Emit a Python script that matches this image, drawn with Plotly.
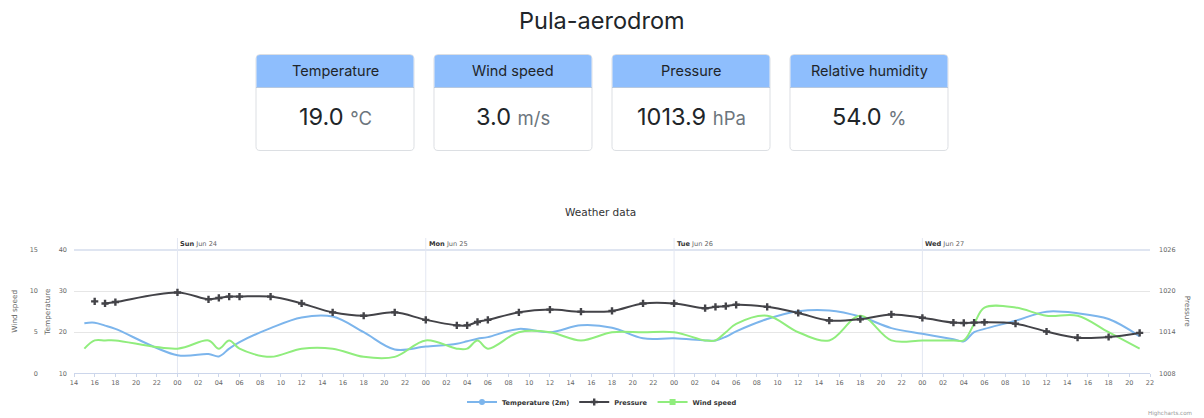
import plotly.graph_objects as go

W, H = 1204, 418

# ---------------- data ----------------
met_times = [
    "2018-06-23 15:00", "2018-06-23 16:00", "2018-06-23 17:00", "2018-06-23 18:00",
    "2018-06-24 00:00", "2018-06-24 03:00", "2018-06-24 04:00", "2018-06-24 05:00", "2018-06-24 06:00",
    "2018-06-24 09:00", "2018-06-24 12:00", "2018-06-24 15:00", "2018-06-24 18:00", "2018-06-24 21:00",
    "2018-06-25 00:00", "2018-06-25 03:00", "2018-06-25 04:00", "2018-06-25 05:00", "2018-06-25 06:00",
    "2018-06-25 09:00", "2018-06-25 12:00", "2018-06-25 15:00", "2018-06-25 18:00", "2018-06-25 21:00",
    "2018-06-26 00:00", "2018-06-26 03:00", "2018-06-26 04:00", "2018-06-26 05:00", "2018-06-26 06:00",
    "2018-06-26 09:00", "2018-06-26 12:00", "2018-06-26 15:00", "2018-06-26 18:00", "2018-06-26 21:00",
    "2018-06-27 00:00", "2018-06-27 03:00", "2018-06-27 04:00", "2018-06-27 05:00", "2018-06-27 06:00",
    "2018-06-27 09:00", "2018-06-27 12:00", "2018-06-27 15:00", "2018-06-27 18:00", "2018-06-27 21:00",
]
temperature = [
    22.2, 22.3, 21.6, 20.8,
    14.4, 14.7, 14.1, 16.0, 17.6, 21.0, 23.6, 23.8, 20.0, 15.8,
    16.5, 17.2, 17.8, 18.4, 18.8, 20.8, 20.0, 21.7, 21.1, 18.5,
    18.5, 18.0, 18.0, 18.9, 20.2, 23.2, 25.1, 25.3, 23.8, 21.0,
    19.6, 18.3, 17.8, 20.0, 20.8, 22.8, 25.0, 24.6, 23.2, 19.0,
]
wind_speed = [
    3.0, 4.0, 4.0, 4.0,
    3.0, 4.0, 3.0, 4.0, 3.0, 2.0, 3.0, 3.0, 2.0, 2.0,
    4.0, 3.0, 3.0, 4.0, 3.0, 5.0, 5.0, 4.0, 5.0, 5.0,
    5.0, 4.0, 4.0, 5.0, 6.0, 7.0, 5.0, 4.0, 7.0, 4.0,
    4.0, 4.0, 4.0, 6.0, 8.0, 8.0, 7.0, 7.0, 5.0, 3.0,
]
pressure_times = [
    "2018-06-23 16:00", "2018-06-23 16:30", "2018-06-23 17:00", "2018-06-23 18:00",
] + met_times[4:]
pressure = [
    1018.5, None, 1018.2, 1018.4,
    1019.8, 1018.8, 1019.0, 1019.2, 1019.2, 1019.2, 1018.2, 1016.9, 1016.4, 1016.9,
    1015.8, 1015.0, 1015.0, 1015.5, 1015.8, 1016.9, 1017.3, 1017.0, 1017.1, 1018.2,
    1018.2, 1017.5, 1017.7, 1017.8, 1018.0, 1017.7, 1016.8, 1015.7, 1015.9, 1016.6,
    1016.1, 1015.4, 1015.35, 1015.4, 1015.45, 1015.25, 1014.1, 1013.2, 1013.3, 1013.9,
]
day_starts = ["2018-06-24", "2018-06-25", "2018-06-26", "2018-06-27"]
day_names = ["Sun", "Mon", "Tue", "Wed"]
day_dates = ["Jun 24", "Jun 25", "Jun 26", "Jun 27"]

card_titles = ["Temperature", "Wind speed", "Pressure", "Relative humidity"]
card_values = ["19.0", "3.0", "1013.9", "54.0"]
card_units = ["°C", "m/s", "hPa", "%"]

# ---------------- helpers ----------------
def PX(x):
    return x / W

def PY(y):
    return 1 - y / H

C_TEMP, C_PRES, C_WIND = "#7cb5ec", "#434348", "#90ed7d"
CHART_FONT = "DejaVu Sans"
PAGE_FONT = "Inter"

X0, X1 = 74, 1150
Y_TOP, Y_BOT = 250, 373.3

fig = go.Figure()

fig.add_trace(go.Scatter(x=met_times, y=temperature, name="Temperature (2m)", mode="lines",
                         line=dict(color=C_TEMP, width=2, shape="spline", smoothing=1.0),
                         yaxis="y", showlegend=False))
fig.add_trace(go.Scatter(x=pressure_times, y=pressure, name="Pressure", mode="lines+markers",
                         line=dict(color=C_PRES, width=2, shape="spline", smoothing=1.0),
                         marker=dict(symbol="cross", size=6, color=C_PRES),
                         connectgaps=False, yaxis="y3", showlegend=False))
fig.add_trace(go.Scatter(x=met_times, y=wind_speed, name="Wind speed", mode="lines",
                         line=dict(color=C_WIND, width=2, shape="spline", smoothing=1.0),
                         yaxis="y2", showlegend=False))

# legend entries
for nm, col, sym in [("Temperature (2m)", C_TEMP, "circle"), ("Pressure", C_PRES, "cross"),
                     ("Wind speed", C_WIND, "square")]:
    fig.add_trace(go.Scatter(x=[None], y=[None], name=nm, mode="lines+markers",
                             line=dict(color=col, width=2), marker=dict(symbol=sym, size=6, color=col),
                             showlegend=True))

shapes = []
annotations = []


def note(x, y, text, size, color, family=CHART_FONT, xanchor="center", yanchor="middle", **kw):
    annotations.append(dict(x=PX(x), y=PY(y), xref="paper", yref="paper", text=text, showarrow=False,
                            xanchor=xanchor, yanchor=yanchor,
                            font=dict(family=family, size=size, color=color), **kw))


# top axis line
shapes.append(dict(type="line", xref="paper", yref="paper", x0=PX(X0), x1=PX(X1), y0=PY(Y_TOP), y1=PY(Y_TOP),
                   line=dict(color="#d5dcec", width=1.5), layer="below"))
# day plot lines + labels
for d, n, dd in zip(day_starts, day_names, day_dates):
    shapes.append(dict(type="line", xref="x", yref="paper", x0=d, x1=d, y0=PY(Y_BOT), y1=PY(238),
                       line=dict(color="#e3e7f2", width=1), layer="below"))
    annotations.append(dict(x=d, xref="x", y=PY(244), yref="paper", xanchor="left", yanchor="middle",
                            xshift=1, showarrow=False,
                            text="<b>%s</b> <span style='color:#666666'>%s</span>" % (n, dd),
                            font=dict(family=CHART_FONT, size=6.6, color="#333333")))

# axis titles
note(15, (Y_TOP + Y_BOT) / 2, "Wind speed", 7.3, "#666666", textangle=-90)
note(48, (Y_TOP + Y_BOT) / 2, "Temperature", 7.3, "#666666", textangle=-90)
note(1187, (Y_TOP + Y_BOT) / 2, "Pressure", 7.3, "#666666", textangle=90)
# chart title + credits
note(600, 212, "Weather data", 10.5, "#333333")
note(1194, 413, "Highcharts.com", 5.6, "#999999", xanchor="right")
# page title
note(602, 20, "Pula-aerodrom", 23.5, "#212529", family=PAGE_FONT)


def rpath(x0, y0, x1, y1, r, top=True, bottom=True):
    """rounded rect path in paper coords from pixel box"""
    rx, ry = r / W, r / H
    a0, a1 = PX(x0), PX(x1)
    b0, b1 = PY(y0), PY(y1)
    rt = (rx, ry) if top else (0, 0)
    rb = (rx, ry) if bottom else (0, 0)
    p = "M%f,%f " % (a0 + rt[0], b0)
    p += "L%f,%f " % (a1 - rt[0], b0)
    p += "Q%f,%f %f,%f " % (a1, b0, a1, b0 - rt[1])
    p += "L%f,%f " % (a1, b1 + rb[1])
    p += "Q%f,%f %f,%f " % (a1, b1, a1 - rb[0], b1)
    p += "L%f,%f " % (a0 + rb[0], b1)
    p += "Q%f,%f %f,%f " % (a0, b1, a0, b1 + rb[1])
    p += "L%f,%f " % (a0, b0 - rt[1])
    p += "Q%f,%f %f,%f Z" % (a0, b0, a0 + rt[0], b0)
    return p


card_w, gap = 158, 20
left0 = 602 - (4 * card_w + 3 * gap) / 2
CT, CH, CB = 54.5, 87.5, 150.5
for i, (t, v, u) in enumerate(zip(card_titles, card_values, card_units)):
    cx0 = left0 + i * (card_w + gap)
    cx1 = cx0 + card_w
    shapes.append(dict(type="path", xref="paper", yref="paper", path=rpath(cx0, CT, cx1, CB, 4),
                       fillcolor="white", line=dict(color="#dcdfe3", width=1), layer="below"))
    shapes.append(dict(type="path", xref="paper", yref="paper",
                       path=rpath(cx0 + 0.5, CT + 0.5, cx1 - 0.5, CH, 3.5, bottom=False),
                       fillcolor="#8ebefd", line=dict(width=0), layer="below"))
    shapes.append(dict(type="line", xref="paper", yref="paper", x0=PX(cx0), x1=PX(cx1), y0=PY(CH), y1=PY(CH),
                       line=dict(color="#b7c9e0", width=1), layer="below"))
    note((cx0 + cx1) / 2, 71, t, 14.5, "#212529", family=PAGE_FONT)
    note((cx0 + cx1) / 2, 116, "%s <span style='font-size:18.5px;color:#6c757d'>%s</span>" % (v, u),
         23.5, "#212529", family=PAGE_FONT)

tickfont = dict(family=CHART_FONT, size=6.5, color="#666666")
dom_y = [PY(Y_BOT), PY(Y_TOP)]

fig.update_layout(
    width=W, height=H, autosize=False,
    margin=dict(l=0, r=0, t=0, b=0, autoexpand=False),
    paper_bgcolor="white", plot_bgcolor="white",
    showlegend=True,
    legend=dict(orientation="h", x=0.5, xanchor="center", y=PY(402), yanchor="middle",
                font=dict(family=CHART_FONT, size=6.6, color="#333333", weight="bold"),
                itemwidth=30, bgcolor="rgba(0,0,0,0)", tracegroupgap=0),
    xaxis=dict(type="date", domain=[PX(X0), PX(X1)], range=["2018-06-23 14:00", "2018-06-27 22:00"],
               tick0="2018-06-23 00:00", dtick=2 * 3600 * 1000, tickformat="%H",
               showgrid=False, zeroline=False, showline=True, linecolor="#ccd6eb", linewidth=1,
               ticks="outside", ticklen=3, tickcolor="#ccd6eb", tickfont=tickfont, anchor="y"),
    yaxis=dict(domain=dom_y, range=[10, 40], dtick=10, showgrid=True, gridcolor="#e6e6e6",
               zeroline=False, showline=False, tickfont=tickfont, ticks="", ticklabelstandoff=6),
    yaxis2=dict(overlaying="y", anchor="free", position=PX(38), side="left", range=[0, 15], dtick=5,
                showgrid=False, zeroline=False, showline=False, tickfont=tickfont, ticks=""),
    yaxis3=dict(overlaying="y", anchor="x", side="right", range=[1008, 1026], dtick=6,
                showgrid=False, zeroline=False, showline=False, tickfont=tickfont, ticks="",
                ticklabelstandoff=8),
    shapes=shapes, annotations=annotations,
    hovermode=False,
)

fig.write_html("out.html", config={"displayModeBar": False},
               post_script="document.body.style.margin='0';document.body.style.overflow='hidden';")
